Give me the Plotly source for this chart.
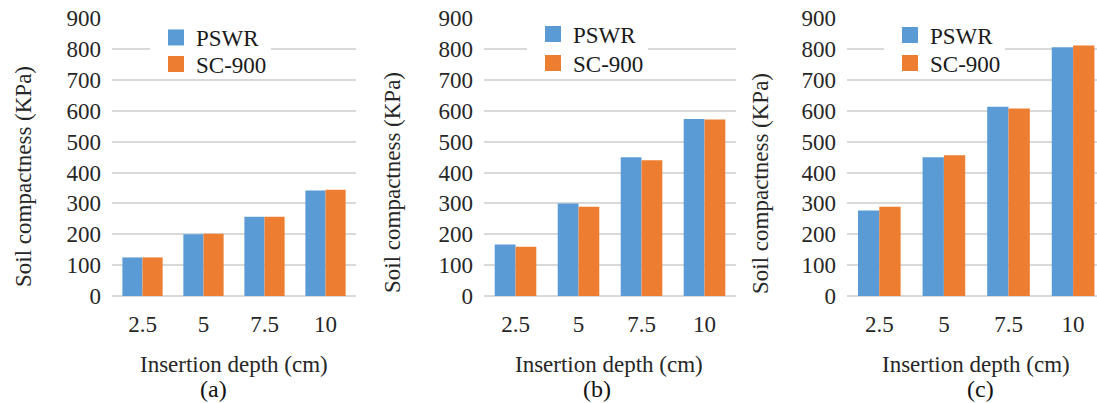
import plotly.graph_objects as go

# Insertion depth categories (cm)
depths = ["2.5", "5", "7.5", "10"]

# Soil compactness (KPa) for the three test soils
pswr_a = [125, 200, 257, 342]
sc900_a = [125, 202, 257, 344]

pswr_b = [167, 300, 450, 574]
sc900_b = [160, 289, 440, 572]

pswr_c = [277, 450, 613, 806]
sc900_c = [289, 456, 608, 812]

panel_labels = ["(a)", "(b)", "(c)"]
series_names = ["PSWR", "SC-900"]

BLUE = "#5B9BD5"
ORANGE = "#ED7D31"
GRID = "#D9D9D9"
TEXT = "#262626"
FONT = "Liberation Serif"

W, H = 1097, 403

panels = [
    (pswr_a, sc900_a),
    (pswr_b, sc900_b),
    (pswr_c, sc900_c),
]

# plot-area extents in pixels
x_domains_px = [(112, 356), (484, 736), (847, 1097)]
x_ranges = [[-0.5, 3.5], [-0.5, 3.5], [-0.5, 3.37]]
y_top_px, y_bot_px = 18.3, 296
y_domain = [1 - y_bot_px / H, 1 - y_top_px / H]

ytitle_pos = [(23, 177), (393, 183), (760, 184)]
xtitle_x = [234, 609, 976]
caption_x = [213, 597, 980]
legend_x = [156, 533, 890]
legend_rows_y = [(37.5, 64), (34, 63), (35, 63)]
# the upper entry keeps a white box so the 800 gridline is hidden behind it
legend_bg = ["white", "rgba(0,0,0,0)"]
legend_border = [6, 0]

fig = go.Figure()
legend_count = 0

for i, (p, s) in enumerate(panels):
    n = "" if i == 0 else str(i + 1)
    xa, ya = "x" + n, "y" + n
    fig.add_trace(go.Bar(x=depths, y=p, name=series_names[0], marker_color=BLUE,
                         marker_line_width=0, xaxis=xa, yaxis=ya, showlegend=False,
                         offsetgroup="a"))
    fig.add_trace(go.Bar(x=depths, y=s, name=series_names[1], marker_color=ORANGE,
                         marker_line_width=0, xaxis=xa, yaxis=ya, showlegend=False,
                         offsetgroup="b"))

    # one single-entry legend per series so each row can be placed on its own
    for k, (name, col, row_y) in enumerate(zip(series_names, [BLUE, ORANGE],
                                               legend_rows_y[i])):
        legend_count += 1
        leg = "legend" if legend_count == 1 else f"legend{legend_count}"
        fig.add_trace(go.Scatter(x=[None], y=[None], mode="markers", name=name,
                                 marker=dict(symbol="square", size=16, color=col),
                                 xaxis=xa, yaxis=ya, legend=leg, showlegend=True))
        # the border widens the box, so pull it left by the same amount
        lx = legend_x[i] - legend_border[k]
        fig.update_layout(**{
            leg: dict(x=lx / W, y=1 - row_y / H,
                      xanchor="left", yanchor="middle",
                      bgcolor=legend_bg[k], bordercolor="white",
                      borderwidth=legend_border[k],
                      font=dict(family=FONT, size=23, color="#1a1a1a"),
                      itemwidth=30),
        })

    d0, d1 = x_domains_px[i]
    fig.update_layout(**{
        "xaxis" + n: dict(domain=[d0 / W, d1 / W], range=x_ranges[i], type="category",
                          anchor=ya, showgrid=False, zeroline=False, showline=False,
                          ticks="", ticklabelstandoff=12, automargin=False,
                          tickfont=dict(family=FONT, size=23, color=TEXT)),
        "yaxis" + n: dict(domain=y_domain, range=[0, 900], dtick=100, anchor=xa,
                          showgrid=True, gridcolor=GRID, gridwidth=1.5,
                          zeroline=True, zerolinecolor=GRID, zerolinewidth=1.5,
                          showline=False, ticks="", ticklabelstandoff=10,
                          automargin=False,
                          tickfont=dict(family=FONT, size=23, color=TEXT)),
    })

    fig.add_annotation(text="Soil compactness (KPa)", textangle=-90,
                       x=ytitle_pos[i][0] / W, y=1 - ytitle_pos[i][1] / H,
                       xref="paper", yref="paper", showarrow=False,
                       xanchor="center", yanchor="middle",
                       font=dict(family=FONT, size=23, color=TEXT))
    fig.add_annotation(text="Insertion depth (cm)",
                       x=xtitle_x[i] / W, y=1 - 364 / H,
                       xref="paper", yref="paper", showarrow=False,
                       xanchor="center", yanchor="middle",
                       font=dict(family=FONT, size=23, color=TEXT))
    fig.add_annotation(text=panel_labels[i],
                       x=caption_x[i] / W, y=1 - 389 / H,
                       xref="paper", yref="paper", showarrow=False,
                       xanchor="center", yanchor="middle",
                       font=dict(family=FONT, size=24, color="#111111"))

fig.update_layout(
    width=W, height=H,
    margin=dict(l=0, r=0, t=0, b=0, autoexpand=False),
    paper_bgcolor="white", plot_bgcolor="white",
    font=dict(family=FONT, size=23, color=TEXT),
    barmode="group", bargap=0.34, bargroupgap=0,
)

fig.write_html("out.html")
